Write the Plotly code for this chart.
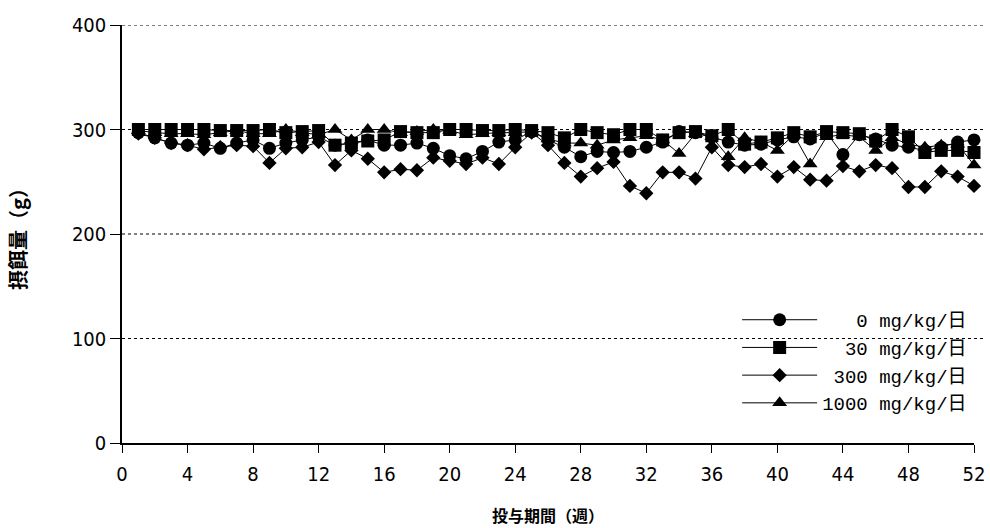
import plotly.graph_objects as go

weeks = list(range(1, 53))

series_names = ["\u00a0\u00a0\u00a00 mg/kg/日", "\u00a0\u00a030 mg/kg/日", "\u00a0300 mg/kg/日", "1000 mg/kg/日"]

dose_0 = [297, 292, 287, 285, 287, 282, 287, 290, 282, 287, 290, 293, 285, 287, 290, 285, 285, 287, 282, 275,
          272, 279, 288, 290, 298, 290, 283, 274, 279, 278, 279, 283, 288, 298, 297, 293, 288, 285, 286, 290,
          293, 291, 297, 276, 295, 291, 285, 283, 280, 283, 288, 290]

dose_30 = [300, 300, 300, 300, 300, 299, 299, 299, 300, 297, 298, 299, 285, 287, 289, 290, 298, 297, 297, 300,
           300, 299, 299, 300, 299, 297, 292, 300, 297, 295, 300, 300, 290, 297, 298, 294, 300, 286, 288, 292,
           297, 293, 298, 297, 296, 289, 300, 293, 278, 280, 280, 278]

dose_300 = [296, 292, 287, 285, 281, 283, 285, 284, 268, 282, 283, 288, 266, 280, 272, 259, 262, 261, 273, 270,
            267, 273, 267, 283, 297, 285, 268, 255, 263, 269, 246, 239, 259, 259, 253, 283, 266, 264, 267, 255,
            264, 252, 251, 265, 260, 266, 263, 245, 245, 260, 255, 246]

dose_1000 = [299, 297, 296, 296, 295, 297, 299, 296, 296, 300, 297, 295, 300, 290, 300, 300, 297, 298, 300, 299,
             295, 296, 297, 297, 298, 291, 287, 287, 285, 290, 292, 294, 290, 277, 296, 293, 274, 292, 288, 280,
             295, 267, 293, 295, 293, 280, 292, 286, 283, 285, 286, 266]

x_ticks = list(range(0, 53, 4))
y_ticks = [0, 100, 200, 300, 400]

symbols = ["circle", "square", "diamond", "triangle-up"]
sizes = [13, 13, 11, 13]
data = [dose_0, dose_30, dose_300, dose_1000]

fig = go.Figure()
for name, vals, sym, sz in zip(series_names, data, symbols, sizes):
    fig.add_trace(go.Scatter(
        x=weeks, y=vals, name=name, mode="lines+markers",
        line=dict(color="black", width=1),
        marker=dict(symbol=sym, size=sz, color="black"),
        cliponaxis=False,
    ))

# dotted horizontal gridlines extending slightly past the x-axis end
for yv in y_ticks[1:]:
    fig.add_shape(type="line", xref="paper", yref="y", x0=0, x1=1.013, y0=yv, y1=yv,
                  line=dict(color="black", width=1, dash="dot"), layer="below")

num_font = dict(family="DejaVu Sans Condensed, DejaVu Sans, sans-serif", size=20, color="black")

fig.update_layout(
    width=990, height=528,
    margin=dict(l=122, r=16, t=25, b=85),
    plot_bgcolor="white", paper_bgcolor="white",
    showlegend=True,
    legend=dict(
        x=0.722, y=0.34, xanchor="left", yanchor="top",
        bgcolor="rgba(255,255,255,0)",
        font=dict(family="Liberation Mono, DejaVu Sans Mono, Noto Sans CJK JP, monospace", size=19, color="black"),
        itemwidth=75, tracegroupgap=0,
    ),
    xaxis=dict(
        range=[0, 52], tickmode="array", tickvals=x_ticks, ticktext=[str(v) for v in x_ticks],
        showline=True, linecolor="black", linewidth=1.5,
        ticks="outside", ticklen=8, tickcolor="black", tickwidth=1,
        showgrid=False, zeroline=False, tickfont=num_font, automargin=False,
        ticklabelstandoff=4,
        title=dict(text="投与期間（週）", font=dict(family="Noto Sans CJK JP", size=16, color="black", weight="bold"), standoff=26),
    ),
    yaxis=dict(
        range=[0, 400], tickmode="array", tickvals=y_ticks, ticktext=[str(v) for v in y_ticks],
        showline=True, linecolor="black", linewidth=1.5,
        ticks="outside", ticklen=10, tickcolor="black", tickwidth=1,
        showgrid=False, zeroline=False, tickfont=num_font, automargin=False,
        title=dict(text="摂餌量（g）", font=dict(family="Noto Sans CJK JP", size=20, color="black", weight="bold"), standoff=40),
    ),
)

fig.write_html("out.html", config={"displayModeBar": False},
               post_script="document.body.style.margin='0';")
